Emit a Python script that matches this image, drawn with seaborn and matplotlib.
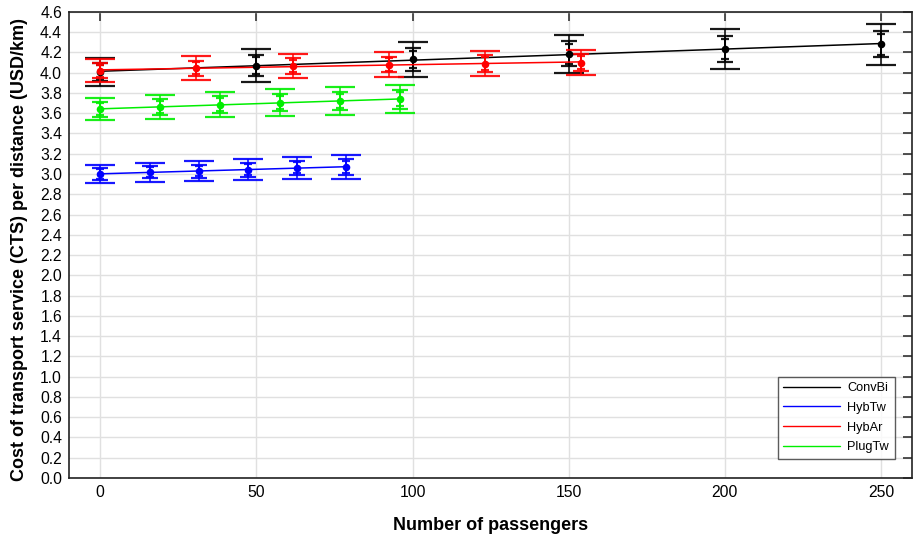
import numpy as np
import pandas as pd
import matplotlib
matplotlib.use("Agg")
import matplotlib.pyplot as plt
import seaborn as sns

# ---- data ----
series_names = ["ConvBi", "HybTw", "HybAr", "PlugTw"]
series_colors = ["black", "#0000ff", "#ff0000", "#00ee00"]

conv_x = [0, 50, 100, 150, 200, 250]
conv_y = [4.005, 4.07, 4.13, 4.185, 4.232, 4.28]
conv_sd = [0.071, 0.082, 0.087, 0.097, 0.102, 0.102]

hybtw_x = [0, 15.8, 31.5, 47.3, 63.0, 78.8]
hybtw_y = [3.00, 3.018, 3.028, 3.044, 3.06, 3.07]
hybtw_sd = [0.046, 0.048, 0.051, 0.054, 0.055, 0.059]

hybar_x = [0, 30.8, 61.6, 92.4, 123.2, 154.0]
hybar_y = [4.02, 4.044, 4.067, 4.08, 4.09, 4.10]
hybar_sd = [0.059, 0.059, 0.059, 0.061, 0.064, 0.064]

plug_x = [0, 19.2, 38.4, 57.6, 76.8, 96.0]
plug_y = [3.64, 3.662, 3.685, 3.705, 3.72, 3.738]
plug_sd = [0.057, 0.060, 0.064, 0.066, 0.071, 0.072]

z_levels = [1.96, 1.28, 1.0]
x_ticks = [0, 50, 100, 150, 200, 250]
y_ticks = np.round(np.arange(0, 4.61, 0.2), 1)

frames = []
for name, xs, ys, sds in zip(series_names,
                             [conv_x, hybtw_x, hybar_x, plug_x],
                             [conv_y, hybtw_y, hybar_y, plug_y],
                             [conv_sd, hybtw_sd, hybar_sd, plug_sd]):
    frames.append(pd.DataFrame({"series": name, "x": xs, "y": ys, "sd": sds}))
df = pd.concat(frames, ignore_index=True)

sns.set_style("whitegrid")
plt.rcParams["font.family"] = ["Liberation Sans", "DejaVu Sans"]
plt.rcParams["text.color"] = "black"
plt.rcParams["axes.labelcolor"] = "black"

fig = plt.figure(figsize=(9.14, 5.38), dpi=100)
ax = fig.add_axes([0.0755, 0.1115, 0.9225, 0.8665])

capsizes = [10.5, 5.5, 2.7]
for name, col in zip(series_names, series_colors):
    d = df[df.series == name]
    # fitted line
    coef = np.polyfit(d.x, d.y, 1)
    fit = pd.DataFrame({"x": [d.x.min(), d.x.max()]})
    fit["y"] = coef[0] * fit.x + coef[1]
    sns.lineplot(data=fit, x="x", y="y", color=col, lw=1.1, ax=ax, label=name)
    for z, cs in zip(z_levels, capsizes):
        ax.errorbar(d.x, d.y, yerr=z * d.sd, fmt="none", ecolor=col,
                    elinewidth=1.2, capsize=cs, capthick=1.6, alpha=0.9)
    sns.scatterplot(data=d, x="x", y="y", color=col, s=30, edgecolor=col,
                    linewidth=0, ax=ax, zorder=5, legend=False)

ax.set_xlim(-10, 260)
ax.set_ylim(0, 4.6)
ax.set_xticks(x_ticks)
ax.set_yticks(y_ticks)
ax.set_yticklabels([f"{v:.1f}" for v in y_ticks])
ax.grid(True, color="#e0e0e0", lw=1)
ax.tick_params(direction="in", length=6.5, width=1.1, colors="#222222",
               labelsize=11.3, top=True, right=True, labelcolor="black", pad=5)
for s in ax.spines.values():
    s.set_color("#222222")
    s.set_linewidth(1.2)

ax.set_xlabel("Number of passengers", fontsize=13, fontweight="bold", labelpad=12)
ax.set_ylabel("Cost of transport service (CTS) per distance (USD/km)",
              fontsize=13, fontweight="bold")
ax.yaxis.set_label_coords(-0.0487, 0.491)

leg = ax.legend(loc="lower right", bbox_to_anchor=(0.987, 0.027), fontsize=9.2,
                frameon=True, fancybox=False, edgecolor="#333333",
                handlelength=4.4, labelspacing=0.6, borderpad=0.45,
                handletextpad=0.6)
leg.get_frame().set_linewidth(1.0)
for h in leg.get_lines():
    h.set_linewidth(1.0)

fig.savefig("out.png", dpi=100)
